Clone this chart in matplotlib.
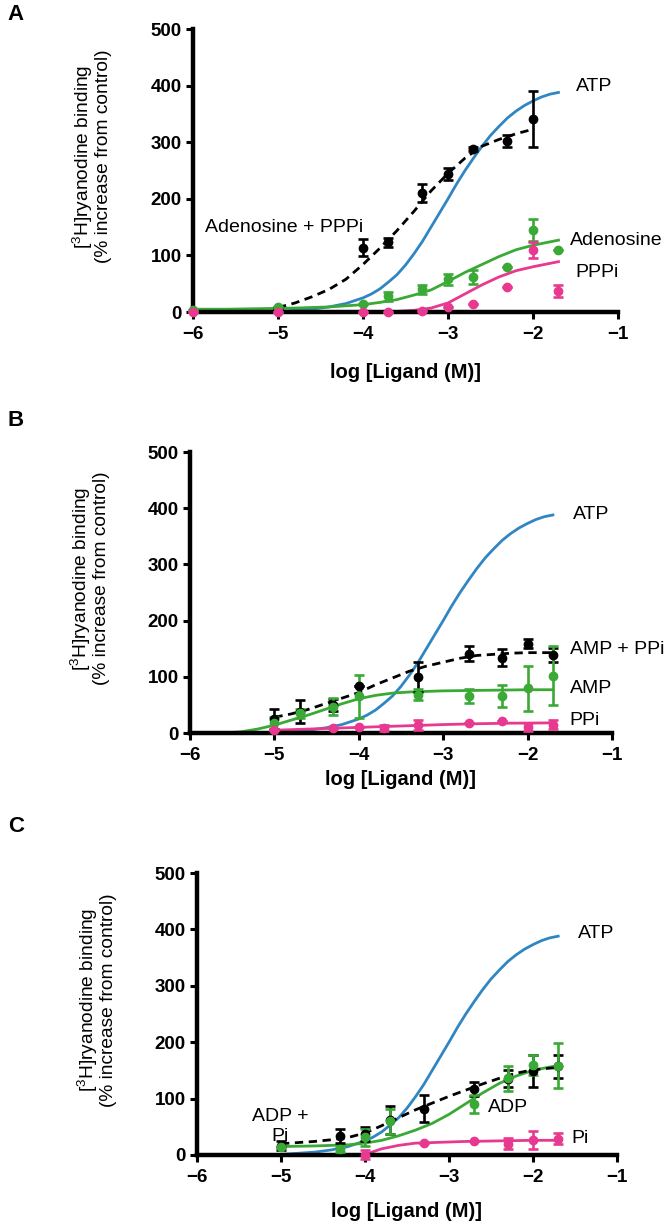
import numpy as np
import matplotlib
matplotlib.use('Agg')
import matplotlib.pyplot as plt

plt.rcParams['font.family'] = ['Liberation Sans', 'DejaVu Sans']
plt.rcParams['mathtext.fontset'] = 'custom'
plt.rcParams['mathtext.rm'] = 'Liberation Sans'

# colours
c_atp = '#2f86c3'
c_green = '#3aa935'
c_pink = '#e7398f'
c_black = 'black'

# ATP reference curve (same in all panels)
atp_x = [-5.0, -4.8, -4.6, -4.4, -4.2, -4.0, -3.9, -3.8, -3.7, -3.6, -3.5, -3.4,
         -3.3, -3.2, -3.1, -3.0, -2.9, -2.8, -2.7, -2.6, -2.5, -2.4, -2.3, -2.2,
         -2.1, -2.0, -1.9, -1.8, -1.7]
atp_y = [1, 3, 5, 9, 15, 25, 32, 41, 53, 66, 83, 103, 125, 150, 175, 200, 226,
         250, 272, 293, 312, 328, 343, 355, 365, 373, 380, 385, 388]

# ---- panel A ----
a_mix_x = [-5.0, -4.0, -3.7, -3.3, -3.0, -2.7, -2.3, -2.0]
a_mix_y = [6, 114, 123, 211, 244, 288, 302, 341]
a_mix_e = [3, 15, 8, 16, 10, 3, 10, 49]
a_mix_fx = [-5.0, -4.8, -4.6, -4.4, -4.2, -4.0, -3.8, -3.6, -3.4, -3.2, -3.0,
            -2.8, -2.6, -2.4, -2.2, -2.0]
a_mix_fy = [8, 16, 27, 40, 58, 84, 113, 144, 178, 214, 245, 272, 293, 305, 315, 323]

a_ade_x = [-6.0, -5.0, -4.0, -3.7, -3.3, -3.0, -2.7, -2.3, -2.0, -1.7]
a_ade_y = [3, 9, 14, 28, 40, 58, 62, 80, 145, 109]
a_ade_e = [0, 0, 0, 8, 8, 10, 12, 0, 20, 0]
a_ade_fx = [-6.0, -5.6, -5.2, -4.8, -4.4, -4.0, -3.8, -3.6, -3.4, -3.2, -3.0,
            -2.8, -2.6, -2.4, -2.2, -2.0, -1.8, -1.7]
a_ade_fy = [5, 5, 6, 7, 9, 13, 17, 22, 30, 39, 54, 70, 84, 98, 110, 118, 124, 127]

a_ppp_x = [-6.0, -5.0, -4.0, -3.7, -3.3, -3.0, -2.7, -2.3, -2.0, -1.7]
a_ppp_y = [0, 0, 0, 0, 1, 8, 14, 44, 109, 37]
a_ppp_e = [0, 0, 0, 0, 0, 0, 0, 0, 14, 10]
a_ppp_fx = [-3.8, -3.6, -3.4, -3.2, -3.0, -2.8, -2.6, -2.4, -2.2, -2.0, -1.8, -1.7]
a_ppp_fy = [0, 1, 3, 7, 16, 32, 48, 62, 73, 80, 86, 89]

# ---- panel B ----
b_mix_x = [-5.0, -4.7, -4.3, -4.0, -3.3, -2.7, -2.3, -2.0, -1.7]
b_mix_y = [25, 38, 50, 84, 100, 141, 134, 159, 139]
b_mix_e = [18, 20, 10, 0, 27, 13, 15, 8, 12]
b_mix_fx = [-5.0, -4.8, -4.6, -4.4, -4.2, -4.0, -3.8, -3.6, -3.4, -3.2, -3.0,
            -2.8, -2.6, -2.4, -2.2, -2.0, -1.7]
b_mix_fy = [28, 34, 42, 52, 62, 72, 86, 98, 110, 119, 126, 133, 138, 140, 142, 143, 143]

b_amp_x = [-5.0, -4.7, -4.3, -4.0, -3.3, -2.7, -2.3, -2.0, -1.7]
b_amp_y = [17, 35, 47, 65, 68, 66, 66, 80, 102]
b_amp_e = [12, 8, 15, 39, 10, 13, 19, 40, 52]
b_amp_fx = [-5.6, -5.4, -5.2, -5.0, -4.8, -4.6, -4.4, -4.2, -4.0, -3.8, -3.6,
            -3.4, -3.2, -3.0, -2.5, -2.0, -1.7]
b_amp_fy = [0, 2, 7, 14, 23, 32, 42, 52, 61, 67, 71, 73, 74, 75, 76, 77, 77]

b_ppi_x = [-5.0, -4.3, -4.0, -3.7, -3.3, -2.7, -2.3, -2.0, -1.7]
b_ppi_y = [5, 9, 10, 9, 15, 17, 21, 11, 15]
b_ppi_e = [0, 0, 0, 6, 9, 0, 0, 7, 8]
b_ppi_fx = [-5.0, -4.6, -4.2, -3.8, -3.4, -3.0, -2.6, -2.2, -1.7]
b_ppi_fy = [5, 7, 9, 11, 13, 15, 16.5, 17.5, 18]

# ---- panel C ----
c_mix_x = [-5.0, -4.3, -4.0, -3.7, -3.3, -2.7, -2.3, -2.0, -1.7]
c_mix_y = [16, 34, 37, 62, 82, 117, 135, 149, 157]
c_mix_e = [8, 12, 12, 24, 24, 13, 15, 28, 20]
c_mix_fx = [-5.0, -4.8, -4.6, -4.4, -4.2, -4.0, -3.8, -3.6, -3.4, -3.2, -3.0,
            -2.8, -2.6, -2.4, -2.2, -2.0, -1.8, -1.7]
c_mix_fy = [20, 22, 24, 27, 31, 39, 52, 66, 80, 92, 104, 115, 126, 136, 145, 151, 154, 155]

c_adp_x = [-5.0, -4.3, -4.0, -3.7, -2.7, -2.3, -2.0, -1.7]
c_adp_y = [15, 10, 31, 60, 91, 136, 159, 158]
c_adp_e = [0, 5, 15, 22, 16, 22, 18, 40]
c_adp_fx = [-5.0, -4.6, -4.2, -4.0, -3.8, -3.6, -3.4, -3.2, -3.0, -2.8, -2.6,
            -2.4, -2.2, -2.0, -1.8, -1.7]
c_adp_fy = [15, 16, 18, 21, 26, 34, 44, 56, 72, 91, 110, 127, 140, 150, 156, 158]

c_pi_x = [-4.0, -3.3, -2.7, -2.3, -2.0, -1.7]
c_pi_y = [0, 22, 24, 20, 26, 29]
c_pi_e = [8, 0, 0, 10, 16, 10]
c_pi_fx = [-4.0, -3.9, -3.8, -3.6, -3.4, -3.2, -2.8, -2.4, -2.0, -1.7]
c_pi_fy = [0, 6, 11, 17, 21, 22, 24, 25, 26, 26]

fig = plt.figure(figsize=(6.66, 12.27), dpi=100)

def setup(ax, xlab_y):
    ax.set_xlim(-6, -1)
    ax.set_ylim(0, 500)
    ax.set_xticks([-6, -5, -4, -3, -2, -1])
    ax.set_yticks([0, 100, 200, 300, 400, 500])
    ax.spines['top'].set_visible(False)
    ax.spines['right'].set_visible(False)
    for s in ['left', 'bottom']:
        ax.spines[s].set_linewidth(3.2)
    ax.tick_params(width=2.2, length=5, labelsize=13.5)
    ax.tick_params(axis='x', pad=5)
    ax.tick_params(axis='y', pad=3)
    for lab in ax.get_xticklabels() + ax.get_yticklabels():
        lab.set_fontweight('bold')
    ax.set_xlabel('log [Ligand (M)]', fontsize=14.5, fontweight='bold')
    ax.xaxis.set_label_coords(0.5, xlab_y)
    ax.set_ylabel('[$^{3}$H]ryanodine binding\n(% increase from control)',
                  fontsize=13.8, linespacing=1.0)
    ax.yaxis.set_label_coords(-0.19, 0.55)

def curve(ax, x, y, col, dashed=False):
    ls = (0, (3, 2)) if dashed else '-'
    ax.plot(x, y, color=col, lw=2.0, ls=ls, clip_on=False, zorder=2,
            solid_joinstyle='round')

def points(ax, x, y, e, col):
    ax.errorbar(x, y, yerr=e, fmt='o', color=col, ms=6, elinewidth=1.9,
                capsize=3.5, capthick=1.9, clip_on=False, zorder=3)

txt = dict(fontsize=14, va='center')

# panel A
axA = fig.add_axes([0.2898, 0.7457, 0.6381, 0.2306])
setup(axA, -0.18)
curve(axA, atp_x, atp_y, c_atp)
curve(axA, a_ade_fx, a_ade_fy, c_green)
curve(axA, a_ppp_fx, a_ppp_fy, c_pink)
curve(axA, a_mix_fx, a_mix_fy, c_black, dashed=True)
points(axA, a_mix_x, a_mix_y, a_mix_e, c_black)
points(axA, a_ade_x, a_ade_y, a_ade_e, c_green)
points(axA, a_ppp_x, a_ppp_y, a_ppp_e, c_pink)
axA.text(-1.49, 398, 'ATP', **txt)
axA.text(-1.56, 127, 'Adenosine', **txt)
axA.text(-1.50, 69, 'PPPi', **txt)
axA.text(-5.86, 150, 'Adenosine + PPPi', **txt)

# panel B
axB = fig.add_axes([0.2853, 0.4026, 0.6336, 0.2290])
setup(axB, -0.13)
curve(axB, atp_x, atp_y, c_atp)
curve(axB, b_amp_fx, b_amp_fy, c_green)
curve(axB, b_ppi_fx, b_ppi_fy, c_pink)
curve(axB, b_mix_fx, b_mix_fy, c_black, dashed=True)
points(axB, b_mix_x, b_mix_y, b_mix_e, c_black)
points(axB, b_amp_x, b_amp_y, b_amp_e, c_green)
points(axB, b_ppi_x, b_ppi_y, b_ppi_e, c_pink)
axB.text(-1.46, 388, 'ATP', **txt)
axB.text(-1.50, 148, 'AMP + PPi', **txt)
axB.text(-1.50, 80, 'AMP', **txt)
axB.text(-1.50, 23, 'PPi', **txt)

# panel C
axC = fig.add_axes([0.2958, 0.0587, 0.6306, 0.2298])
setup(axC, -0.167)
curve(axC, atp_x, atp_y, c_atp)
curve(axC, c_adp_fx, c_adp_fy, c_green)
curve(axC, c_pi_fx, c_pi_fy, c_pink)
curve(axC, c_mix_fx, c_mix_fy, c_black, dashed=True)
points(axC, c_mix_x, c_mix_y, c_mix_e, c_black)
points(axC, c_adp_x, c_adp_y, c_adp_e, c_green)
points(axC, c_pi_x, c_pi_y, c_pi_e, c_pink)
axC.text(-1.46, 393, 'ATP', **txt)
axC.text(-2.54, 85, 'ADP', **txt)
axC.text(-1.54, 30, 'Pi', **txt)
axC.text(-5.01, 50, 'ADP +\nPi', ha='center', fontsize=14, va='center', linespacing=1.25)

# panel letters
for lab, yy in [('A', 15), ('B', 420), ('C', 827)]:
    fig.text(16 / 666, 1 - yy / 1227, lab, fontsize=16, fontweight='bold',
             ha='center', va='center')

fig.savefig('out.png', dpi=100)
